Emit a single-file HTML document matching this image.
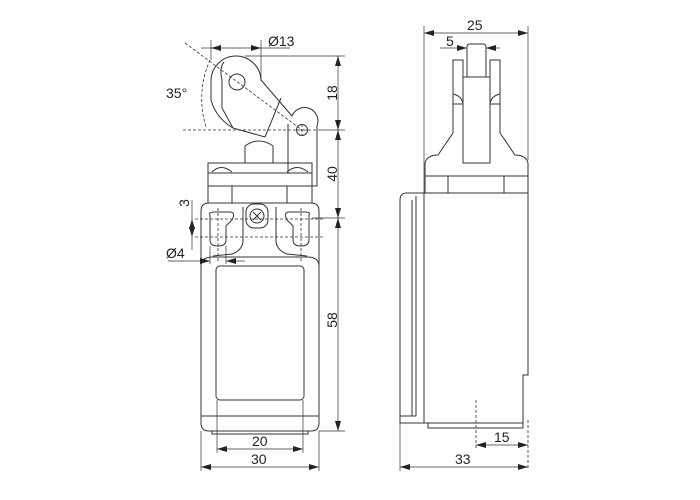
<!DOCTYPE html>
<html><head><style>body{margin:0;background:#fff}svg{display:block}</style></head><body>
<svg width="700" height="500" viewBox="0 0 700 500" xmlns="http://www.w3.org/2000/svg" font-family="Liberation Sans, DejaVu Sans, sans-serif">
<defs><marker id="a" viewBox="0 0 10 6" refX="10" refY="3" markerWidth="10" markerHeight="6" orient="auto-start-reverse" markerUnits="userSpaceOnUse"><path d="M0,0L10,3L0,6z" fill="#222"/></marker></defs>
<g fill="none" stroke="#333" stroke-width="1">
<path d="M211,100 L211,82 A25,25 0 0 1 261,80 L292,116 A13,13 0 0 1 317,126 L317,186 L311,186"/>
<path d="M211,100 Q216,118 233,128 L265,137"/>
<path d="M224,62 Q219,68 222,80 L222,108 L233,128"/>
<line x1="281" y1="98" x2="265" y2="137"/>
<line x1="288" y1="124" x2="288" y2="173"/>
<circle cx="237" cy="82" r="8"/>
<circle cx="302" cy="130" r="5.5"/>
<path d="M245,163 L245,146 Q259,136 273,146 L273,163"/>
<rect x="208" y="163" width="104" height="40"/>
<line x1="208" y1="173" x2="312" y2="173"/>
<line x1="208" y1="186" x2="312" y2="186"/>
<line x1="232" y1="186" x2="232" y2="203"/><line x1="287" y1="186" x2="287" y2="203"/>
<path d="M212,172 Q221,163 232,172"/><path d="M287,172 Q297,163 308,172"/>
<path d="M209,203 L311,203 Q319,203 319,211 L319,423 Q319,431 311,431 L209,431 Q201,431 201,423 L201,211 Q201,203 209,203z"/>
<line x1="201" y1="416" x2="319" y2="416"/>
<path d="M212,431 L212,434 L308,434 L308,431"/>
<rect x="216" y="266" width="88" height="134" rx="4"/>
<path d="M201,266 Q201,257 213,257 L307,257 Q319,257 319,266"/>
<path d="M243,207 L243,240 Q243,250 232,254 L213,256" />
<path d="M276,207 L276,240 Q276,250 287,254 L307,256"/>
<path d="M210,215 Q208,212 214,212 L230,212 Q236,212 232,220 L226,226 L226,240 Q226,246 218,246 Q210,246 210,240z"/>
<path d="M309,215 Q311,212 305,212 L289,212 Q283,212 287,220 L293,226 L293,240 Q293,246 301,246 Q309,246 309,240z"/>
<rect x="246" y="204" width="22" height="24" rx="8"/>
<circle cx="257" cy="216" r="7"/>
<path d="M253,212l8,8M261,212l-8,8"/>
<path d="M424,193 L528,193 L528,375 L523,375 L523,423 L400,423 L400,200 Q400,193 407,193 L424,193"/>
<line x1="424" y1="193" x2="424" y2="423"/>
<line x1="412" y1="200" x2="412" y2="416"/><line x1="416" y1="196" x2="416" y2="416"/>
<path d="M400,416 L416,416"/>
<rect x="428" y="423" width="95" height="5"/>
<rect x="425" y="176" width="23" height="17"/><rect x="504" y="176" width="24" height="17"/>
<line x1="425" y1="176" x2="528" y2="176"/>
<path d="M425,176 L425,163 Q427,155 438,155 L453,133 L453,60 L463,60 L463,77 L490,77 L490,60 L500,60 L500,133 L515,155 Q526,155 528,163 L528,176"/>
<path d="M463,77 L463,163 L490,163 L490,77"/>
<path d="M467,77 L467,47 Q467,44 470,44 L483,44 Q486,44 486,47 L486,77"/>
<path d="M453,94 Q462,96 463,104 M500,94 Q491,96 490,104"/>
<line x1="453" y1="104" x2="463" y2="104"/><line x1="490" y1="104" x2="500" y2="104"/>
</g>
<g fill="none" stroke="#333" stroke-width="0.8" stroke-dasharray="3,2">
<line x1="183" y1="130" x2="320" y2="130"/>
<line x1="185" y1="43" x2="302" y2="130"/>
<path d="M210,60 A95,95 0 0 0 206,127"/>
<line x1="296" y1="130" x2="308" y2="130"/><line x1="302" y1="124" x2="302" y2="136"/>
<line x1="218" y1="208" x2="218" y2="262"/><line x1="301" y1="208" x2="301" y2="262"/>
<line x1="195" y1="219" x2="325" y2="219"/><line x1="195" y1="237" x2="325" y2="237"/>
<line x1="476" y1="400" x2="476" y2="448"/><line x1="528" y1="420" x2="528" y2="470"/>
</g>
<g stroke="#333" stroke-width="0.7" fill="none">
<line x1="211" y1="40" x2="211" y2="60"/><line x1="261" y1="40" x2="261" y2="80"/>
<line x1="201" y1="48" x2="211" y2="48"/><line x1="211" y1="48" x2="261" y2="48" marker-start="url(#a)" marker-end="url(#a)"/>
<line x1="261" y1="48" x2="290" y2="48"/>
<line x1="245" y1="56" x2="345" y2="56"/><line x1="320" y1="130" x2="345" y2="130"/>
<line x1="338" y1="56" x2="338" y2="130" marker-start="url(#a)" marker-end="url(#a)"/>
<line x1="338" y1="130" x2="338" y2="218" marker-start="url(#a)" marker-end="url(#a)"/>
<line x1="312" y1="218" x2="345" y2="218"/>
<line x1="338" y1="218" x2="338" y2="431" marker-start="url(#a)" marker-end="url(#a)"/>
<line x1="319" y1="431" x2="345" y2="431"/>
<line x1="192" y1="219" x2="192" y2="237" marker-start="url(#a)" marker-end="url(#a)"/>
<line x1="192" y1="200" x2="192" y2="250"/>
<line x1="168" y1="261" x2="210" y2="261" marker-end="url(#a)"/><line x1="226" y1="261" x2="245" y2="261" marker-start="url(#a)"/>
<line x1="210" y1="246" x2="210" y2="264"/><line x1="226" y1="246" x2="226" y2="264"/>
<line x1="217" y1="400" x2="217" y2="453"/><line x1="303" y1="400" x2="303" y2="453"/>
<line x1="217" y1="449" x2="303" y2="449" marker-start="url(#a)" marker-end="url(#a)"/>
<line x1="201" y1="431" x2="201" y2="471"/><line x1="319" y1="431" x2="319" y2="471"/>
<line x1="201" y1="467" x2="319" y2="467" marker-start="url(#a)" marker-end="url(#a)"/>
<line x1="424" y1="26" x2="424" y2="193"/><line x1="528" y1="26" x2="528" y2="160"/>
<line x1="424" y1="33" x2="528" y2="33" marker-start="url(#a)" marker-end="url(#a)"/>
<line x1="440" y1="48" x2="467" y2="48" marker-end="url(#a)"/><line x1="486" y1="48" x2="500" y2="48" marker-start="url(#a)"/>
<line x1="476" y1="445" x2="528" y2="445" marker-start="url(#a)" marker-end="url(#a)"/>
<line x1="400" y1="423" x2="400" y2="471"/>
<line x1="400" y1="467" x2="528" y2="467" marker-start="url(#a)" marker-end="url(#a)"/>
</g>
<g fill="#222" font-size="14">
<text x="268" y="46">Ø13</text>
<text x="166" y="98">35°</text>
<text x="166" y="258">Ø4</text>
<text x="252" y="446">20</text>
<text x="251" y="464">30</text>
<text x="467" y="30">25</text>
<text x="446" y="46">5</text>
<text x="494" y="442">15</text>
<text x="455" y="464">33</text>
<text transform="translate(337,93) rotate(-90)" text-anchor="middle">18</text>
<text transform="translate(337,174) rotate(-90)" text-anchor="middle">40</text>
<text transform="translate(337,320) rotate(-90)" text-anchor="middle">58</text>
<text transform="translate(189,203) rotate(-90)" text-anchor="middle">3</text>
</g>
</svg>
</body></html>
